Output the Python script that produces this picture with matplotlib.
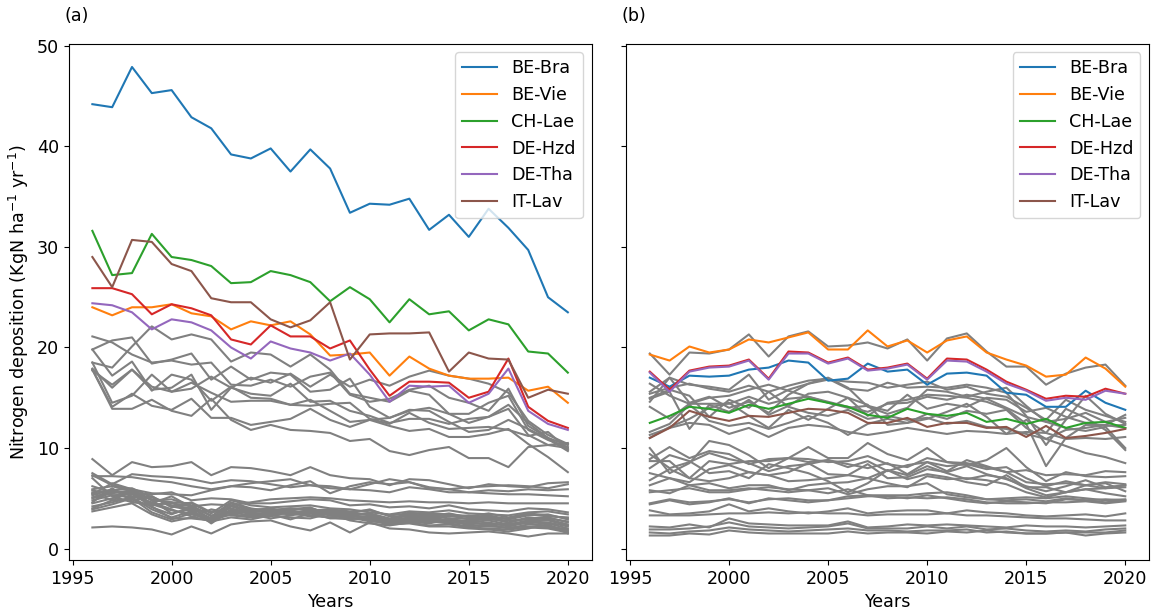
import matplotlib
matplotlib.use("Agg")
import matplotlib.pyplot as plt

years = [1996, 1997, 1998, 1999, 2000, 2001, 2002, 2003, 2004, 2005, 2006, 2007, 2008,
         2009, 2010, 2011, 2012, 2013, 2014, 2015, 2016, 2017, 2018, 2019, 2020]

sites = ["BE-Bra", "BE-Vie", "CH-Lae", "DE-Hzd", "DE-Tha", "IT-Lav"]
colors = ["tab:blue", "tab:orange", "tab:green", "tab:red", "tab:purple", "tab:brown"]

# panel (a): highlighted sites
a_be_bra = [44.2, 43.9, 47.9, 45.3, 45.6, 42.9, 41.8, 39.2, 38.8, 39.8, 37.5, 39.7, 37.8,
            33.4, 34.3, 34.2, 34.8, 31.7, 33.2, 31.0, 33.8, 31.9, 29.7, 25.0, 23.5]
a_be_vie = [24.0, 23.2, 24.0, 24.0, 24.3, 23.4, 23.1, 21.8, 22.6, 22.2, 22.6, 21.3, 19.2,
            19.3, 19.5, 17.2, 19.1, 17.9, 17.2, 16.9, 16.9, 17.0, 15.7, 16.1, 14.5]
a_ch_lae = [31.6, 27.2, 27.4, 31.3, 29.0, 28.7, 28.1, 26.4, 26.5, 27.6, 27.2, 26.5, 24.6,
            26.0, 24.8, 22.5, 24.8, 23.3, 23.6, 21.7, 22.8, 22.3, 19.6, 19.4, 17.5]
a_de_hzd = [25.9, 25.9, 25.3, 23.3, 24.3, 23.9, 23.2, 20.8, 20.3, 22.2, 21.1, 21.1, 19.9,
            20.7, 17.8, 15.2, 16.6, 16.6, 16.5, 15.0, 15.6, 18.9, 14.1, 12.7, 12.0]
a_de_tha = [24.4, 24.2, 23.5, 21.8, 22.8, 22.5, 21.7, 20.0, 18.9, 20.6, 19.9, 19.5, 18.7,
            19.4, 17.3, 14.6, 16.2, 16.1, 16.2, 14.5, 15.4, 17.9, 13.7, 12.4, 11.8]
a_it_lav = [29.0, 26.0, 30.7, 30.5, 28.3, 27.6, 24.9, 24.5, 24.5, 22.8, 22.0, 22.7, 24.5,
            18.8, 21.3, 21.4, 21.4, 21.5, 17.6, 19.5, 18.9, 18.8, 15.0, 15.8, 15.4]

# panel (a): other sites
a_other = [
    [21.1, 20.5, 19.3, 18.5, 18.7, 18.3, 18.5, 16.3, 16.2, 16.8, 16.1, 17.1, 17.5, 15.3, 14.6, 14.9, 15.8, 16.2, 15.0, 14.5, 13.7, 15.9, 12.2, 11.0, 10.3],
    [19.8, 20.7, 21.0, 18.4, 18.8, 19.4, 16.8, 18.1, 16.8, 17.5, 17.3, 15.6, 15.8, 16.9, 14.1, 13.0, 13.7, 14.0, 13.4, 12.5, 13.1, 14.3, 12.5, 11.0, 9.8],
    [18.5, 18.0, 20.1, 22.1, 20.8, 21.3, 20.8, 18.6, 19.5, 19.3, 18.1, 19.3, 17.8, 15.4, 15.0, 14.6, 15.7, 15.3, 13.4, 13.4, 14.5, 15.2, 11.8, 10.8, 10.1],
    [17.9, 16.0, 17.8, 15.8, 16.0, 17.3, 13.8, 16.0, 17.0, 16.5, 17.4, 16.1, 17.3, 16.1, 16.8, 16.2, 17.1, 17.7, 17.2, 16.9, 16.4, 15.5, 12.7, 11.3, 10.4],
    [17.8, 13.9, 13.9, 14.8, 13.7, 13.2, 14.9, 12.8, 11.8, 12.3, 11.8, 11.7, 11.5, 10.7, 10.9, 9.7, 9.3, 9.8, 10.1, 9.0, 9.0, 8.1, 10.1, 10.3, 10.0],
    [17.7, 16.3, 17.8, 16.1, 15.6, 15.9, 17.1, 16.0, 15.4, 15.2, 16.4, 14.6, 14.7, 13.7, 13.2, 12.5, 12.9, 12.9, 12.4, 12.9, 13.1, 13.9, 11.3, 10.3, 10.5],
    [19.8, 17.2, 18.6, 15.7, 17.3, 16.8, 14.7, 16.1, 15.0, 14.9, 14.3, 14.2, 14.4, 14.5, 12.9, 12.4, 13.5, 12.5, 11.9, 12.0, 12.1, 11.8, 11.2, 11.6, 9.9],
    [18.5, 14.5, 15.2, 17.3, 15.6, 16.5, 15.5, 14.6, 14.7, 14.7, 14.3, 14.8, 13.7, 12.6, 12.8, 13.0, 13.8, 13.7, 12.6, 11.6, 11.8, 12.8, 11.9, 10.9, 9.7],
    [17.8, 14.1, 15.4, 14.2, 13.8, 14.9, 13.0, 13.0, 12.3, 12.6, 12.9, 13.9, 12.8, 12.1, 12.8, 12.2, 11.7, 11.9, 11.1, 11.1, 11.4, 11.9, 10.4, 9.1, 7.6],
    [8.9, 7.3, 8.6, 8.1, 8.2, 8.6, 7.3, 8.1, 8.0, 7.7, 7.3, 8.1, 7.3, 7.0, 6.9, 6.3, 6.9, 6.8, 6.4, 6.0, 6.4, 6.2, 6.1, 6.5, 6.6],
    [7.5, 6.4, 7.4, 7.2, 7.1, 6.9, 6.5, 6.8, 6.7, 6.4, 6.1, 6.3, 6.2, 5.9, 5.8, 5.6, 6.1, 5.9, 5.6, 5.6, 5.8, 5.7, 5.9, 5.8, 5.9],
    [7.2, 7.2, 7.1, 6.8, 6.6, 6.2, 5.9, 6.2, 6.5, 6.7, 6.9, 6.3, 6.0, 5.9, 6.4, 6.9, 6.6, 6.1, 5.9, 5.6, 5.5, 5.4, 5.4, 5.3, 5.2],
    [7.3, 6.3, 5.9, 5.5, 5.4, 5.3, 5.8, 6.2, 6.1, 5.8, 6.3, 6.7, 5.5, 6.2, 6.6, 6.4, 6.6, 6.0, 5.9, 6.1, 6.2, 6.3, 6.2, 6.0, 6.4],
    [5.9, 6.2, 5.7, 4.9, 4.6, 4.5, 3.5, 4.8, 4.3, 4.1, 4.2, 4.3, 4.0, 3.9, 3.6, 3.4, 3.7, 3.6, 3.8, 3.5, 3.4, 3.3, 3.6, 3.7, 3.4],
    [5.6, 5.8, 6.0, 5.1, 4.3, 4.0, 3.0, 4.5, 3.9, 3.8, 4.0, 3.9, 3.7, 3.4, 3.5, 3.0, 3.4, 3.2, 3.5, 3.1, 3.3, 2.9, 3.3, 3.4, 2.9],
    [5.3, 5.9, 5.2, 4.6, 3.9, 3.2, 2.7, 4.2, 3.6, 3.9, 3.8, 4.0, 3.5, 3.2, 3.2, 2.7, 3.0, 2.8, 3.3, 2.9, 3.0, 2.6, 3.0, 3.1, 2.6],
    [5.0, 5.5, 5.8, 4.8, 3.5, 3.9, 2.5, 3.8, 3.7, 3.6, 3.4, 3.7, 3.4, 3.0, 3.0, 2.5, 2.8, 2.6, 3.0, 2.6, 2.8, 2.4, 2.8, 2.8, 2.3],
    [4.8, 5.3, 5.4, 4.3, 4.6, 3.6, 2.9, 3.6, 3.3, 3.5, 3.6, 3.5, 3.8, 3.6, 3.3, 2.8, 3.1, 3.0, 2.7, 2.4, 2.6, 2.2, 2.6, 2.5, 2.0],
    [4.5, 5.0, 5.6, 4.1, 3.4, 4.2, 3.3, 3.3, 3.1, 3.2, 3.7, 3.3, 3.1, 3.4, 2.8, 2.4, 2.9, 2.7, 2.5, 2.2, 2.4, 2.0, 2.4, 2.3, 1.8],
    [4.2, 4.6, 5.1, 3.9, 3.1, 3.7, 2.6, 3.9, 3.4, 3.0, 3.3, 3.6, 3.3, 3.1, 2.7, 2.6, 2.7, 2.5, 2.9, 2.3, 2.2, 2.1, 2.2, 2.1, 1.7],
    [3.9, 4.4, 5.0, 3.6, 2.9, 3.5, 2.7, 3.1, 2.9, 3.3, 3.1, 3.0, 3.5, 2.8, 2.5, 2.3, 2.6, 2.3, 2.4, 2.1, 2.0, 1.9, 2.1, 2.0, 1.6],
    [3.7, 4.1, 4.5, 3.4, 2.7, 3.1, 3.9, 3.5, 3.8, 4.0, 3.4, 3.9, 3.7, 3.4, 3.0, 2.4, 2.5, 2.2, 2.2, 2.0, 1.9, 1.7, 2.0, 2.4, 1.5],
    [2.1, 2.2, 2.1, 1.9, 1.4, 2.2, 1.5, 2.4, 2.7, 2.8, 2.2, 1.8, 2.6, 1.6, 2.6, 2.0, 1.9, 1.6, 1.5, 1.6, 1.7, 1.5, 1.2, 1.5, 1.5],
    [6.2, 5.6, 5.5, 5.4, 5.6, 4.8, 5.0, 4.9, 4.5, 4.5, 4.7, 4.9, 4.8, 4.3, 4.4, 4.1, 4.2, 4.0, 4.3, 3.9, 3.8, 3.7, 4.0, 3.9, 3.6],
    [5.4, 6.5, 5.9, 4.8, 4.9, 4.3, 3.2, 4.6, 4.0, 3.7, 3.9, 4.1, 3.3, 3.5, 3.9, 3.2, 3.2, 3.4, 3.2, 3.3, 3.1, 3.0, 3.4, 3.2, 3.1],
    [4.6, 6.0, 4.7, 5.2, 4.1, 4.6, 3.6, 4.0, 3.5, 3.4, 3.5, 3.2, 3.6, 3.3, 3.1, 2.9, 3.3, 3.1, 2.8, 2.8, 2.9, 2.8, 2.9, 3.0, 2.7],
    [5.1, 5.7, 5.6, 4.5, 5.2, 4.1, 2.8, 4.3, 3.8, 4.0, 3.5, 3.8, 3.6, 3.5, 3.4, 2.8, 3.6, 3.3, 3.0, 3.0, 3.2, 2.6, 3.1, 2.9, 2.4],
    [4.0, 4.8, 4.9, 4.2, 3.0, 3.0, 2.8, 3.4, 3.2, 3.4, 2.9, 3.5, 3.0, 3.0, 2.9, 2.6, 2.7, 2.9, 2.6, 2.5, 2.5, 2.3, 2.7, 2.6, 2.2],
    [5.5, 4.8, 5.7, 4.4, 3.8, 3.4, 3.0, 3.7, 3.9, 3.7, 3.8, 3.3, 3.1, 2.9, 3.2, 2.5, 2.9, 3.3, 2.6, 2.7, 2.3, 2.5, 2.5, 2.2, 1.9],
    [5.8, 5.3, 5.1, 5.2, 4.2, 3.8, 3.7, 3.7, 3.6, 3.8, 4.0, 3.8, 3.9, 3.7, 3.8, 3.3, 3.5, 3.5, 3.4, 3.2, 3.5, 3.1, 3.5, 3.3, 3.0],
    [7.0, 5.2, 4.6, 4.4, 4.5, 4.2, 4.4, 4.3, 4.6, 4.9, 5.0, 5.1, 5.0, 4.8, 4.7, 4.6, 4.7, 4.6, 4.6, 4.5, 4.6, 4.5, 4.5, 4.5, 4.5],
]

# panel (b): highlighted sites
b_be_bra = [17.0, 16.1, 17.2, 17.1, 17.2, 17.8, 18.0, 18.7, 18.5, 16.7, 16.9, 18.4, 17.6,
            17.8, 16.3, 17.4, 17.5, 17.2, 15.5, 15.3, 14.1, 14.1, 15.7, 14.5, 13.8]
b_be_vie = [19.3, 18.7, 20.1, 19.5, 19.8, 20.8, 20.5, 21.0, 21.5, 19.8, 19.8, 21.7, 20.1,
            20.7, 19.5, 20.7, 21.1, 19.5, 18.8, 18.2, 17.1, 17.3, 19.0, 17.9, 16.1]
b_ch_lae = [12.5, 13.2, 14.1, 13.9, 13.5, 14.3, 13.9, 14.4, 14.9, 14.5, 14.1, 13.3, 13.0,
            13.9, 13.4, 13.2, 13.5, 12.6, 12.9, 12.4, 12.9, 12.0, 12.5, 12.6, 12.0]
b_de_hzd = [17.6, 15.8, 17.7, 18.1, 18.2, 18.8, 16.9, 19.6, 19.5, 18.5, 19.0, 17.8, 18.0,
            18.4, 16.9, 18.9, 18.8, 17.8, 16.6, 15.8, 14.9, 15.2, 15.1, 15.9, 15.4]
b_de_tha = [17.5, 15.6, 17.6, 18.0, 18.1, 18.7, 16.8, 19.4, 19.4, 18.4, 18.9, 17.7, 17.9,
            18.3, 16.8, 18.7, 18.6, 17.6, 16.4, 15.7, 14.7, 15.0, 14.8, 15.7, 15.4]
b_it_lav = [11.0, 12.0, 13.7, 13.1, 12.7, 13.2, 13.1, 13.5, 13.9, 13.8, 13.5, 12.5, 12.5,
            13.0, 12.1, 12.5, 12.5, 12.0, 12.1, 11.1, 12.2, 11.0, 11.2, 11.5, 11.9]

# panel (b): other sites
b_other = [
    [19.4, 17.3, 19.5, 19.4, 19.8, 21.3, 19.1, 21.1, 21.6, 20.1, 20.2, 20.5, 19.9, 20.8, 18.7, 20.9, 21.4, 19.6, 18.1, 18.1, 16.3, 17.4, 18.0, 18.3, 16.2],
    [15.6, 17.0, 16.3, 16.1, 15.8, 17.3, 14.8, 15.8, 16.4, 16.8, 16.6, 16.5, 16.0, 16.3, 16.6, 15.8, 16.1, 15.4, 15.1, 14.0, 12.8, 14.8, 13.8, 13.2, 12.6],
    [15.4, 16.0, 16.4, 15.9, 15.6, 16.2, 15.6, 16.2, 16.7, 16.9, 15.9, 15.7, 16.5, 16.0, 16.1, 16.0, 16.3, 16.0, 15.5, 13.2, 10.3, 12.8, 15.2, 13.4, 12.4],
    [14.9, 15.6, 11.9, 14.3, 13.6, 14.8, 13.3, 14.2, 15.4, 15.6, 15.0, 13.2, 14.5, 14.8, 15.3, 15.2, 15.0, 14.6, 13.9, 12.4, 8.2, 11.0, 12.3, 12.3, 13.3],
    [14.1, 12.9, 14.4, 14.4, 14.4, 15.1, 14.4, 14.9, 15.1, 14.6, 14.1, 13.6, 14.4, 14.5, 15.1, 14.8, 15.3, 14.9, 14.0, 13.1, 12.6, 12.9, 13.5, 12.6, 13.0],
    [11.6, 12.4, 14.3, 12.7, 12.2, 12.5, 11.9, 12.5, 13.2, 12.5, 11.3, 12.4, 12.9, 12.5, 13.4, 12.9, 13.7, 13.4, 13.8, 12.0, 10.9, 11.8, 12.0, 12.3, 12.0],
    [11.3, 12.0, 12.5, 12.3, 11.4, 12.0, 11.1, 12.0, 12.3, 12.1, 11.6, 11.3, 11.6, 12.0, 11.7, 11.4, 11.7, 11.6, 11.4, 11.6, 11.5, 10.9, 11.0, 10.9, 11.1],
    [14.6, 17.0, 14.5, 15.1, 14.0, 14.6, 13.5, 15.3, 16.4, 17.0, 16.0, 14.1, 13.4, 14.0, 15.8, 15.6, 15.1, 15.6, 16.0, 14.2, 12.6, 12.0, 11.7, 12.1, 10.0],
    [16.4, 15.2, 14.4, 15.0, 15.2, 15.8, 16.3, 15.7, 15.1, 14.5, 14.0, 14.2, 13.7, 15.3, 13.9, 14.4, 14.1, 15.0, 14.8, 13.6, 14.0, 13.1, 12.5, 12.2, 12.3],
    [11.0, 12.1, 12.9, 14.0, 14.5, 13.2, 12.0, 13.8, 12.8, 13.9, 15.0, 14.3, 12.3, 12.5, 12.9, 13.6, 14.4, 13.1, 11.4, 12.8, 11.5, 13.9, 13.0, 11.8, 9.8],
    [15.0, 15.8, 15.2, 13.1, 14.8, 14.0, 15.6, 14.1, 13.5, 13.2, 13.8, 12.9, 13.2, 12.8, 13.0, 12.4, 12.7, 12.1, 11.9, 11.4, 10.9, 10.2, 9.5, 9.1, 8.5],
    [10.0, 7.5, 8.5, 10.7, 10.3, 9.3, 8.0, 9.0, 10.1, 9.0, 9.0, 10.5, 9.4, 8.8, 10.0, 8.6, 8.3, 8.8, 10.0, 8.1, 6.7, 7.6, 7.2, 7.1, 7.2],
    [8.9, 10.1, 9.0, 9.7, 9.4, 8.4, 8.9, 9.0, 8.9, 8.6, 8.7, 9.2, 8.4, 8.1, 9.0, 8.6, 8.5, 8.1, 7.6, 6.6, 6.4, 6.5, 6.3, 6.6, 6.4],
    [8.7, 8.7, 7.0, 8.7, 8.4, 8.7, 8.7, 9.0, 8.6, 8.8, 8.4, 8.0, 8.5, 7.4, 8.6, 8.2, 8.4, 7.9, 8.1, 7.0, 6.2, 6.7, 6.3, 6.0, 6.3],
    [8.0, 9.3, 8.7, 7.5, 7.7, 7.0, 8.4, 8.0, 7.5, 6.7, 5.6, 6.5, 7.8, 7.3, 8.2, 7.5, 6.9, 7.3, 7.0, 6.0, 5.3, 5.6, 5.9, 5.5, 5.2],
    [6.8, 7.9, 7.0, 6.7, 7.0, 7.6, 7.3, 6.7, 6.8, 7.0, 7.3, 7.0, 6.5, 6.1, 7.2, 6.9, 7.0, 6.8, 6.4, 5.6, 5.1, 5.6, 5.9, 6.0, 6.1],
    [6.3, 7.0, 6.3, 6.5, 6.0, 6.3, 6.3, 5.8, 6.3, 6.5, 6.6, 7.0, 7.8, 6.9, 7.4, 7.1, 6.6, 6.3, 7.3, 6.1, 6.1, 5.6, 6.3, 6.5, 5.7],
    [5.8, 5.5, 6.3, 5.8, 5.8, 6.0, 5.8, 5.6, 5.8, 6.0, 5.4, 5.9, 6.2, 6.2, 6.5, 5.4, 5.1, 4.9, 5.0, 5.1, 5.0, 5.2, 5.0, 4.8, 4.9],
    [5.6, 5.8, 6.0, 5.6, 5.6, 5.9, 6.1, 5.9, 5.8, 5.5, 5.9, 5.3, 5.3, 5.3, 5.5, 5.6, 5.3, 4.9, 4.8, 4.9, 4.7, 5.0, 4.8, 4.9, 4.8],
    [7.5, 7.0, 6.6, 7.9, 8.3, 7.6, 7.3, 7.6, 8.5, 7.4, 7.3, 8.4, 7.0, 7.1, 7.9, 7.6, 8.2, 7.4, 6.9, 6.2, 5.7, 6.2, 6.8, 6.1, 6.3],
    [9.4, 8.0, 8.6, 9.5, 8.9, 8.5, 7.7, 8.2, 8.4, 8.8, 8.1, 8.7, 7.7, 8.3, 8.6, 7.7, 8.8, 8.2, 7.6, 7.8, 7.3, 7.4, 7.3, 7.7, 7.6],
    [4.4, 4.8, 4.4, 4.6, 5.0, 4.5, 5.0, 4.8, 4.6, 4.8, 5.2, 5.3, 5.0, 5.1, 5.0, 5.1, 4.9, 4.6, 4.5, 4.5, 4.6, 4.6, 4.7, 4.5, 4.7],
    [4.5, 4.9, 4.6, 4.7, 4.9, 4.6, 4.9, 5.0, 4.8, 4.8, 5.0, 5.2, 5.2, 5.0, 5.3, 5.0, 4.7, 4.5, 4.7, 4.6, 4.5, 4.9, 4.8, 4.6, 4.8],
    [3.8, 3.4, 3.5, 3.7, 4.4, 3.7, 4.0, 3.7, 3.5, 3.7, 4.0, 3.5, 3.7, 3.8, 3.8, 3.5, 3.8, 3.6, 3.5, 3.3, 3.2, 3.3, 3.4, 3.2, 3.5],
    [3.3, 3.3, 3.3, 3.4, 3.5, 3.5, 3.6, 3.5, 3.6, 3.5, 3.5, 3.3, 3.4, 3.4, 3.4, 3.5, 3.3, 3.3, 3.2, 3.1, 3.0, 3.0, 2.9, 2.8, 2.8],
    [2.2, 2.1, 2.4, 2.1, 3.0, 2.5, 2.4, 2.3, 2.3, 2.3, 2.7, 2.1, 2.2, 2.4, 2.3, 2.4, 2.3, 2.2, 2.1, 2.3, 2.2, 2.2, 2.1, 2.2, 2.3],
    [1.9, 1.9, 2.0, 2.2, 2.6, 2.2, 2.1, 2.0, 2.1, 2.2, 2.5, 2.0, 2.0, 2.0, 2.2, 2.0, 2.2, 1.9, 2.0, 1.8, 1.7, 1.8, 1.7, 1.9, 2.0],
    [1.3, 1.3, 1.5, 1.4, 1.8, 1.6, 1.5, 1.5, 1.5, 1.5, 1.7, 1.5, 1.6, 1.6, 1.5, 1.7, 1.6, 1.8, 1.6, 1.5, 1.5, 1.6, 1.3, 1.5, 1.6],
    [1.6, 1.5, 1.7, 1.8, 2.1, 1.9, 1.8, 1.7, 1.8, 1.9, 2.0, 1.8, 1.8, 1.7, 1.8, 1.8, 1.9, 1.6, 1.7, 1.5, 1.5, 1.6, 1.6, 1.6, 1.8],
]

a_sites = [a_be_bra, a_be_vie, a_ch_lae, a_de_hzd, a_de_tha, a_it_lav]
b_sites = [b_be_bra, b_be_vie, b_ch_lae, b_de_hzd, b_de_tha, b_it_lav]

fs = 12.6

fig = plt.figure(figsize=(11.51, 6.11), dpi=100)
ax1 = fig.add_axes([0.0596, 0.0835, 0.4544, 0.8453])
ax2 = fig.add_axes([0.5439, 0.0835, 0.4544, 0.8453], sharey=ax1)

for ax, others, highlighted, tag in [(ax1, a_other, a_sites, "(a)"),
                                     (ax2, b_other, b_sites, "(b)")]:
    for vals in others:
        ax.plot(years, vals, color="grey", lw=1.5, zorder=1)
    for name, c, vals in zip(sites, colors, highlighted):
        ax.plot(years, vals, color=c, lw=1.5, label=name, zorder=2)
    ax.legend(loc="upper right", fontsize=fs)
    ax.set_xlabel("Years", fontsize=fs)
    ax.set_xticks([1995, 2000, 2005, 2010, 2015, 2020])
    ax.tick_params(labelsize=fs)
    ax.text(-0.008, 1.053, tag, transform=ax.transAxes, fontsize=fs, va="center", ha="left")

ax1.set_ylabel("Nitrogen deposition (KgN ha$^{-1}$ yr$^{-1}$)", fontsize=fs)
ax1.set_yticks([0, 10, 20, 30, 40, 50])
plt.setp(ax2.get_yticklabels(), visible=False)

fig.savefig("out.png", dpi=100)
